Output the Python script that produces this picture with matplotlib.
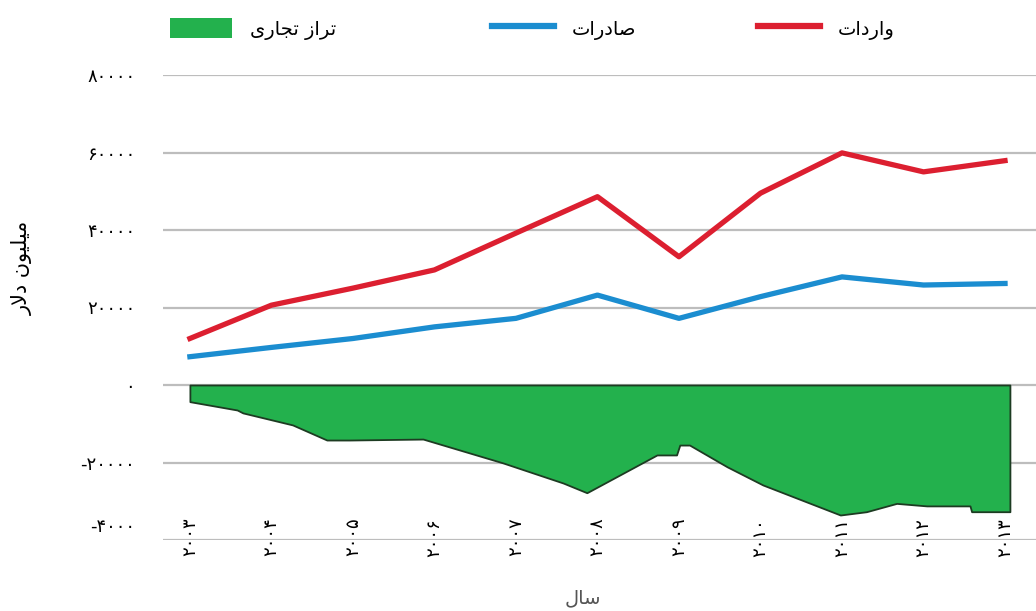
import matplotlib
matplotlib.use("Agg")
import matplotlib.pyplot as plt
import matplotlib.transforms as mtransforms
from matplotlib.patches import Patch
from matplotlib.lines import Line2D

# ---------------- data ----------------
years = [2003, 2004, 2005, 2006, 2007, 2008, 2009, 2010, 2011, 2012, 2013]
year_labels = ["۲۰۰۳", "۲۰۰۴", "۲۰۰۵", "۲۰۰۶", "۲۰۰۷", "۲۰۰۸",
               "۲۰۰۹", "۲۰۱۰", "۲۰۱۱", "۲۰۱۲", "۲۰۱۳"]
imports = [12000, 20600, 25000, 29700, 39200, 48600, 33100, 49500, 59900, 55000, 57900]
exports = [7300, 9700, 12000, 15000, 17200, 23200, 17200, 22800, 27900, 25800, 26200]
# trade balance outline (as drawn, with its own vertices)
balance_x = [2003.0, 2003.58, 2003.65, 2004.26, 2004.68, 2004.96, 2005.86, 2006.84,
             2007.58, 2007.87, 2008.73, 2008.97, 2009.01, 2009.13, 2009.59, 2010.03,
             2010.98, 2011.30, 2011.67, 2012.04, 2012.57, 2012.59, 2013.06]
balance = [-4300, -6450, -7200, -10300, -14200, -14200, -13950, -20100,
           -25300, -27800, -18050, -18050, -15500, -15500, -21100, -25800,
           -33550, -32700, -30550, -31200, -31200, -32700, -32700]
y_ticks = [-40000, -20000, 0, 20000, 40000, 60000, 80000]
y_tick_labels = ["-۴۰۰۰", "-۲۰۰۰۰", "۰", "۲۰۰۰۰", "۴۰۰۰۰", "۶۰۰۰۰", "۸۰۰۰۰"]
label_imports = "واردات"
label_exports = "صادرات"
label_balance = "تراز تجاری"
y_title = "میلیون دلار"
x_title = "سال"

# ---------------- minimal Persian shaping ----------------
FORMS = {  # isolated, final, initial, medial
    'ا': ('\uFE8D', '\uFE8E', None, None),
    'د': ('\uFEA9', '\uFEAA', None, None),
    'ر': ('\uFEAD', '\uFEAE', None, None),
    'ز': ('\uFEAF', '\uFEB0', None, None),
    'و': ('\uFEED', '\uFEEE', None, None),
    'ت': ('\uFE95', '\uFE96', '\uFE97', '\uFE98'),
    'ص': ('\uFEB9', '\uFEBA', '\uFEBB', '\uFEBC'),
    'ج': ('\uFE9D', '\uFE9E', '\uFE9F', '\uFEA0'),
    'ی': ('\uFBFC', '\uFBFD', '\uFBFE', '\uFBFF'),
    'م': ('\uFEE1', '\uFEE2', '\uFEE3', '\uFEE4'),
    'ل': ('\uFEDD', '\uFEDE', '\uFEDF', '\uFEE0'),
    'ن': ('\uFEE5', '\uFEE6', '\uFEE7', '\uFEE8'),
    'س': ('\uFEB1', '\uFEB2', '\uFEB3', '\uFEB4'),
    'LA': ('\uFEFB', '\uFEFC', None, None),
}


def shape(s):
    toks = []
    i = 0
    while i < len(s):
        if s[i] == 'ل' and i + 1 < len(s) and s[i + 1] == 'ا':
            toks.append('LA')
            i += 2
        else:
            toks.append(s[i])
            i += 1
    out = []
    for k, t in enumerate(toks):
        if t not in FORMS:
            out.append(t)
            continue
        prev = toks[k - 1] if k > 0 else None
        nxt = toks[k + 1] if k + 1 < len(toks) else None
        jp = prev in FORMS and FORMS[prev][2] is not None
        jn = FORMS[t][2] is not None and nxt in FORMS
        iso, fin, ini, med = FORMS[t]
        if jp and jn:
            out.append(med)
        elif jp:
            out.append(fin)
        elif jn:
            out.append(ini)
        else:
            out.append(iso)
    return ''.join(reversed(out))


plt.rcParams['font.family'] = ['DejaVu Sans']

RED = '#dc1f30'
BLUE = '#1b8dd0'
GREEN = '#23b14d'
GRID = '#bdbdbd'

fig = plt.figure(figsize=(10.36, 6.11), dpi=100)
ax = fig.add_axes([163 / 1036, 1 - 540 / 611, 1 - 163 / 1036, 465 / 611])

ax.fill_between(balance_x, balance, 0, facecolor=GREEN, edgecolor='#1d3b22',
                linewidth=1.3, zorder=2)
ax.plot(years, imports, color=RED, lw=3.8, solid_joinstyle='round', zorder=3)
ax.plot(years, exports, color=BLUE, lw=3.8, solid_joinstyle='round', zorder=3)

ax.set_xlim(2002.67, 2013.38)
ax.set_ylim(-40000, 80000)
ax.set_yticks(y_ticks)
ax.set_yticklabels(y_tick_labels, fontsize=13)
ax.set_xticks(years)
ax.set_xticklabels(year_labels, rotation=90, fontsize=13)
ax.tick_params(axis='y', length=0, pad=20)
ax.tick_params(axis='x', length=0, pad=-16)
for s in ax.spines.values():
    s.set_visible(False)
ax.yaxis.grid(True, color=GRID, lw=1.6, zorder=0)
ax.set_axisbelow(True)

# lowest y tick label sits above its line in the reference
lab = ax.get_yticklabels()[0]
lab.set_transform(lab.get_transform() + mtransforms.ScaledTranslation(0, 15 / 100, fig.dpi_scale_trans))

fig.text(22 / 1036, 1 - 268 / 611, shape(y_title), rotation=90, fontsize=15,
         ha='center', va='center')
fig.text(583 / 1036, 1 - 598 / 611, shape(x_title), fontsize=14,
         ha='center', va='center', color='#555555')

# legend entries placed across the top
entries = [
    (Patch(facecolor=GREEN, edgecolor='none'), shape(label_balance), 170),
    (Line2D([], [], color=BLUE, lw=4.5), shape(label_exports), 492),
    (Line2D([], [], color=RED, lw=4.5), shape(label_imports), 758),
]
for h, txt, xpx in entries:
    leg = fig.legend([h], [txt], loc='center left',
                     bbox_to_anchor=(xpx / 1036, 1 - 29 / 611),
                     frameon=False, fontsize=14, handlelength=3.2,
                     handleheight=1.15, handletextpad=0.9, borderpad=0,
                     borderaxespad=0)

fig.savefig('out.png', dpi=100)
